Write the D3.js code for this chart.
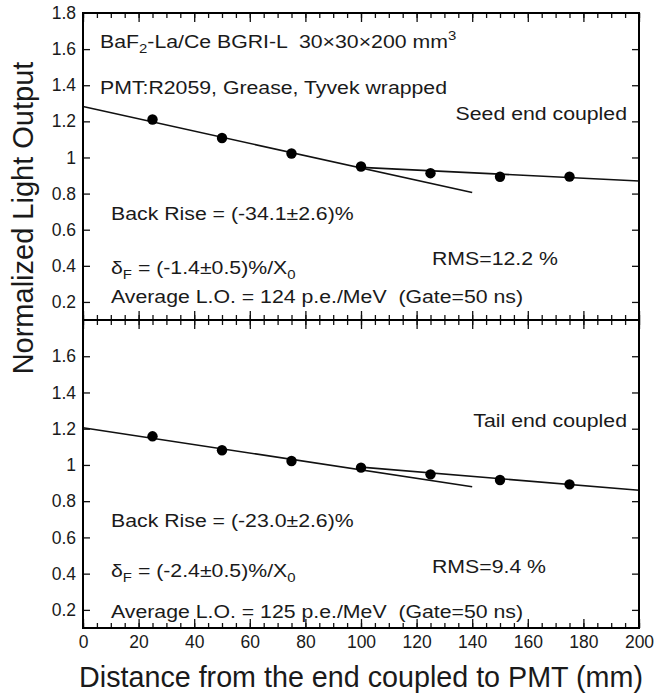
<!DOCTYPE html>
<html lang="en">
<head>
    <meta charset="UTF-8">
    <title>Normalized Light Output vs distance</title>
    <script src="https://d3js.org/d3.v7.min.js"></script>
    <style>
        body { margin: 0; background: #fff; }
        text { font-family: "Liberation Sans", Arial, sans-serif; fill: #1a1a1a; }
        .tick text { font-size: 17.5px; }
    </style>
</head>
<body>
    <div id="chart"></div>
    <script>
        // distance of each measured point from the coupled end (mm)
        const distances = [25, 50, 75, 100, 125, 150, 175];
        // normalized light output, seed end coupled (upper panel)
        const seedLO = [1.21, 1.108, 1.022, 0.95, 0.913, 0.893, 0.894];
        // normalized light output, tail end coupled (lower panel)
        const tailLO = [1.158, 1.081, 1.022, 0.985, 0.948, 0.917, 0.893];

        // fitted lines: [distance, value] end points
        const seedFrontFit = [[0, 1.282], [140, 0.806]];
        const seedBackFit = [[100, 0.945], [200, 0.87]];
        const tailFrontFit = [[0, 1.205], [140, 0.88]];
        const tailBackFit = [[100, 0.988], [200, 0.86]];

        const xMajor = [0, 20, 40, 60, 80, 100, 120, 140, 160, 180, 200];
        const xMinor = d3.range(0, 201, 5);
        const yTicksTop = [0.2, 0.4, 0.6, 0.8, 1, 1.2, 1.4, 1.6, 1.8];
        const yTicksBottom = [0.2, 0.4, 0.6, 0.8, 1, 1.2, 1.4, 1.6];

        const seedNotes = {
            label: "Seed end coupled",
            backRise: "Back Rise = (-34.1\u00B12.6)%",
            delta: "(-1.4\u00B10.5)%/X",
            rms: "RMS=12.2 %",
            avg: "Average L.O. = 124 p.e./MeV  (Gate=50 ns)"
        };
        const tailNotes = {
            label: "Tail end coupled",
            backRise: "Back Rise = (-23.0\u00B12.6)%",
            delta: "(-2.4\u00B10.5)%/X",
            rms: "RMS=9.4 %",
            avg: "Average L.O. = 125 p.e./MeV  (Gate=50 ns)"
        };

        const W = 656, H = 694;
        const pLeft = 83, pRight = 639, pTop = 13, pMid = 320, pBottom = 628;
        const stretch = 1.15; // the annotation lettering is a bit wide

        const svg = d3.select("#chart").append("svg")
            .attr("width", W).attr("height", H);

        const x = d3.scaleLinear().domain([0, 200]).range([pLeft, pRight]);
        const yTop = d3.scaleLinear().domain([0.1, 1.8]).range([pMid, pTop]);
        const yBot = d3.scaleLinear().domain([0.1, 1.8]).range([pBottom, pMid]);

        const fmt = d => d === 1 ? "1" : d.toFixed(1);

        function note(g, px, py, anchor) {
            return g.append("text")
                .attr("transform", `translate(${px},${py}) scale(${stretch},1)`)
                .attr("text-anchor", anchor || "start")
                .attr("xml:space", "preserve");
        }

        function drawPanel(y, values, frontFit, backFit, notes, yTicks, y0, y1, off) {
            const g = svg.append("g");

            // x ticks on the bottom (pointing up) and on the top (pointing down)
            [[y0, -1], [y1, 1]].forEach(([yy, dir]) => {
                g.append("g").attr("transform", `translate(0,${yy})`)
                    .call(d3.axisBottom(x).tickValues(xMinor).tickSize(5 * dir).tickFormat(""))
                    .call(a => a.select(".domain").remove());
                g.append("g").attr("transform", `translate(0,${yy})`)
                    .call(d3.axisBottom(x).tickValues(xMajor).tickSize(9 * dir).tickFormat(""))
                    .call(a => a.select(".domain").remove());
            });

            // y ticks inward on both sides
            g.append("g").attr("transform", `translate(${pLeft},0)`)
                .call(d3.axisLeft(y).tickValues(yTicks).tickSize(-7).tickPadding(7).tickFormat(fmt))
                .call(a => a.select(".domain").remove())
                .call(a => a.selectAll(".tick line").filter(d => d > 1.7).remove());
            g.append("g").attr("transform", `translate(${pRight},0)`)
                .call(d3.axisRight(y).tickValues(yTicksBottom).tickSize(-7).tickFormat(""))
                .call(a => a.select(".domain").remove());

            g.selectAll(".tick line").attr("stroke", "#111").attr("stroke-width", 1.3);
            g.selectAll(".tick text").attr("fill", "#1a1a1a");

            // fit lines
            const line = d3.line().x(d => x(d[0])).y(d => y(d[1]));
            [frontFit, backFit].forEach(f => {
                g.append("path").datum(f)
                    .attr("d", line)
                    .attr("fill", "none")
                    .attr("stroke", "#111")
                    .attr("stroke-width", 1.6);
            });

            // points
            g.selectAll("circle.pt")
                .data(distances.map((d, i) => [d, values[i]]))
                .join("circle")
                .attr("class", "pt")
                .attr("cx", d => x(d[0]))
                .attr("cy", d => y(d[1]))
                .attr("r", 5.2)
                .attr("fill", "#000");

            // annotations
            const t = g.append("g").style("font-size", "18.5px");
            note(t, pRight - 12, y1 + 107, "end").text(notes.label);
            note(t, 111, y0 - off.rise).text(notes.backRise);

            const dl = note(t, 111, y0 - off.delta);
            dl.append("tspan").text("\u03B4");
            dl.append("tspan").attr("dy", 5).style("font-size", "13px").text("F");
            dl.append("tspan").attr("dy", -5).text(" = " + notes.delta);
            dl.append("tspan").attr("dy", 5).style("font-size", "13px").text("0");

            note(t, 432, y0 - off.rms).text(notes.rms);
            note(t, 111, y0 - off.avg).text(notes.avg);

            return t;
        }

        const tTop = drawPanel(yTop, seedLO, seedFrontFit, seedBackFit, seedNotes, yTicksTop, pMid, pTop,
            { rise: 100, delta: 46, rms: 55, avg: 17 });
        drawPanel(yBot, tailLO, tailFrontFit, tailBackFit, tailNotes, yTicksBottom, pBottom, pMid,
            { rise: 101, delta: 51, rms: 55, avg: 10 });

        // header text of the upper panel
        const h1 = note(tTop, 100, 48);
        h1.append("tspan").text("BaF");
        h1.append("tspan").attr("dy", 5).style("font-size", "13px").text("2");
        h1.append("tspan").attr("dy", -5).text("-La/Ce BGRI-L  30\u00D730\u00D7200 mm");
        h1.append("tspan").attr("dy", -8).style("font-size", "13px").text("3");
        note(tTop, 100, 94).text("PMT:R2059, Grease, Tyvek wrapped");

        // frame: two stacked boxes
        svg.append("rect").attr("x", pLeft).attr("y", pTop)
            .attr("width", pRight - pLeft).attr("height", pBottom - pTop)
            .attr("fill", "none").attr("stroke", "#000").attr("stroke-width", 2);
        svg.append("line").attr("x1", pLeft).attr("x2", pRight)
            .attr("y1", pMid).attr("y2", pMid)
            .attr("stroke", "#000").attr("stroke-width", 2);

        // bottom x labels
        svg.append("g").attr("transform", `translate(0,${pBottom})`)
            .call(d3.axisBottom(x).tickValues(xMajor).tickSize(0).tickPadding(8))
            .call(a => a.select(".domain").remove());

        // axis titles
        svg.append("text")
            .attr("x", (pLeft + pRight) / 2).attr("y", 687)
            .attr("text-anchor", "middle")
            .style("font-size", "28.7px")
            .text("Distance from the end coupled to PMT (mm)");

        svg.append("text")
            .attr("transform", "translate(33,218) rotate(-90)")
            .attr("text-anchor", "middle")
            .style("font-size", "29px")
            .text("Normalized Light Output");
    </script>
</body>
</html>
